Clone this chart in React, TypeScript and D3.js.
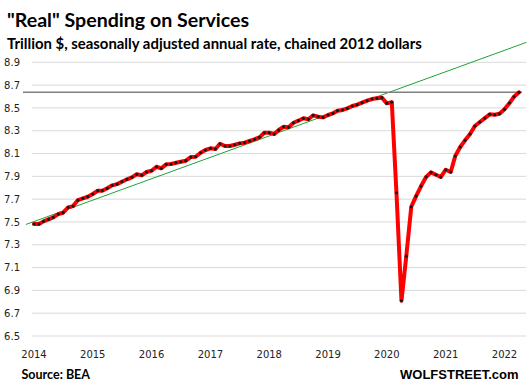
import React, { useEffect, useRef } from "react";
import * as d3 from "d3";

// monthly, Jan 2014 .. Apr 2022
const months = d3.timeMonth.range(new Date(2014, 0, 1), new Date(2022, 4, 1));

// trillion $, SAAR, chained 2012 dollars
const spending = [
  7.482, 7.482, 7.505, 7.523, 7.54, 7.569, 7.581, 7.628, 7.639, 7.692, 7.707, 7.721,
  7.745, 7.774, 7.774, 7.795, 7.821, 7.832, 7.853, 7.874, 7.891, 7.918, 7.909, 7.938,
  7.949, 7.984, 7.97, 8.005, 8.008, 8.019, 8.028, 8.037, 8.069, 8.072, 8.107, 8.131,
  8.146, 8.139, 8.186, 8.166, 8.166, 8.177, 8.189, 8.195, 8.21, 8.225, 8.242, 8.282,
  8.282, 8.271, 8.306, 8.335, 8.33, 8.37, 8.388, 8.409, 8.4, 8.435, 8.423, 8.417,
  8.438, 8.453, 8.476, 8.482, 8.496, 8.517, 8.528, 8.546, 8.563, 8.578, 8.584, 8.59,
  8.54, 8.55, 7.756, 6.809, 7.2, 7.633, 7.727, 7.815, 7.894, 7.935, 7.914, 7.894,
  7.958, 7.938, 8.078, 8.157, 8.216, 8.271, 8.341, 8.376, 8.411, 8.444, 8.44, 8.449,
  8.488, 8.543, 8.598, 8.637,
];

const yTicks = [6.5, 6.7, 6.9, 7.1, 7.3, 7.5, 7.7, 7.9, 8.1, 8.3, 8.5, 8.7, 8.9];
const yearLabels = ["2014", "2015", "2016", "2017", "2018", "2019", "2020", "2021", "2022"];

// pre-pandemic trend line, drawn by hand on the original
const trendDates = [new Date(2013, 10, 12), new Date(2022, 4, 17)];
const trendValues = [7.478, 9.075];

export default function App() {
  const ref = useRef<SVGSVGElement>(null);

  useEffect(() => {
    const svg = d3.select(ref.current);
    svg.selectAll("*").remove();

    const x = d3
      .scaleTime()
      .domain([months[0], months[months.length - 1]])
      .range([34, 519]);
    const y = d3.scaleLinear().domain([6.5, 8.9]).range([336, 62.3]);

    svg
      .append("text")
      .attr("x", 7)
      .attr("y", 26.5)
      .attr("font-family", "Lato, sans-serif")
      .attr("font-weight", 700)
      .attr("font-size", 19.6)
      .attr("fill", "#000")
      .text('"Real" Spending on Services');

    svg
      .append("text")
      .attr("x", 7)
      .attr("y", 48.5)
      .attr("font-family", "Lato, sans-serif")
      .attr("font-weight", 700)
      .attr("font-size", 14.9)
      .attr("fill", "#000")
      .text("Trillion $, seasonally adjusted annual rate, chained 2012 dollars");

    // grid + y labels
    svg
      .append("g")
      .selectAll("line")
      .data(yTicks)
      .enter()
      .append("line")
      .attr("x1", 32)
      .attr("x2", 526)
      .attr("y1", (d) => y(d))
      .attr("y2", (d) => y(d))
      .attr("stroke", "#d9d9d9")
      .attr("stroke-width", 1);

    svg
      .append("g")
      .selectAll("text")
      .data(yTicks)
      .enter()
      .append("text")
      .attr("x", 20)
      .attr("y", (d) => y(d))
      .attr("dy", "0.36em")
      .attr("text-anchor", "end")
      .attr("font-family", "'DejaVu Sans', sans-serif")
      .attr("font-size", 10)
      .attr("fill", "#222")
      .text((d) => d.toFixed(1));

    svg
      .append("g")
      .selectAll("text")
      .data(yearLabels)
      .enter()
      .append("text")
      .attr("x", (d) => x(new Date(+d, 0, 1)))
      .attr("y", 358)
      .attr("text-anchor", "middle")
      .attr("font-family", "'DejaVu Sans', sans-serif")
      .attr("font-size", 10)
      .attr("fill", "#222")
      .text((d) => d);

    // trend line
    svg
      .append("line")
      .attr("x1", x(trendDates[0]))
      .attr("y1", y(trendValues[0]))
      .attr("x2", x(trendDates[1]))
      .attr("y2", y(trendValues[1]))
      .attr("stroke", "#1fa33a")
      .attr("stroke-width", 1);

    // level of latest month
    const last = spending[spending.length - 1];
    svg
      .append("line")
      .attr("x1", 23)
      .attr("x2", x(months[months.length - 1]) + 3)
      .attr("y1", y(last))
      .attr("y2", y(last))
      .attr("stroke", "#7f7f7f")
      .attr("stroke-width", 1.5);

    const line = d3
      .line<number>()
      .x((d, i) => x(months[i]))
      .y((d) => y(d));

    svg
      .append("path")
      .datum(spending)
      .attr("d", line)
      .attr("fill", "none")
      .attr("stroke", "#ff0000")
      .attr("stroke-width", 4)
      .attr("stroke-linejoin", "round")
      .attr("stroke-linecap", "round");

    svg
      .append("g")
      .selectAll("circle")
      .data(spending)
      .enter()
      .append("circle")
      .attr("cx", (d, i) => x(months[i]))
      .attr("cy", (d) => y(d))
      .attr("r", 1.6)
      .attr("fill", "#1a1a1a");

    svg
      .append("text")
      .attr("x", 21.5)
      .attr("y", 379)
      .attr("font-family", "Lato, sans-serif")
      .attr("font-weight", 700)
      .attr("font-size", 12.5)
      .attr("fill", "#000")
      .text("Source: BEA");

    svg
      .append("text")
      .attr("x", 518.5)
      .attr("y", 379.3)
      .attr("text-anchor", "end")
      .attr("font-family", "'Liberation Sans', Arial, sans-serif")
      .attr("font-weight", 700)
      .attr("font-size", 13)
      .attr("fill", "#000")
      .text("WOLFSTREET.com");
  }, []);

  return (
    <svg
      ref={ref}
      width={528}
      height={389}
      style={{ position: "absolute", left: 0, top: 0, background: "#fff" }}
    />
  );
}
